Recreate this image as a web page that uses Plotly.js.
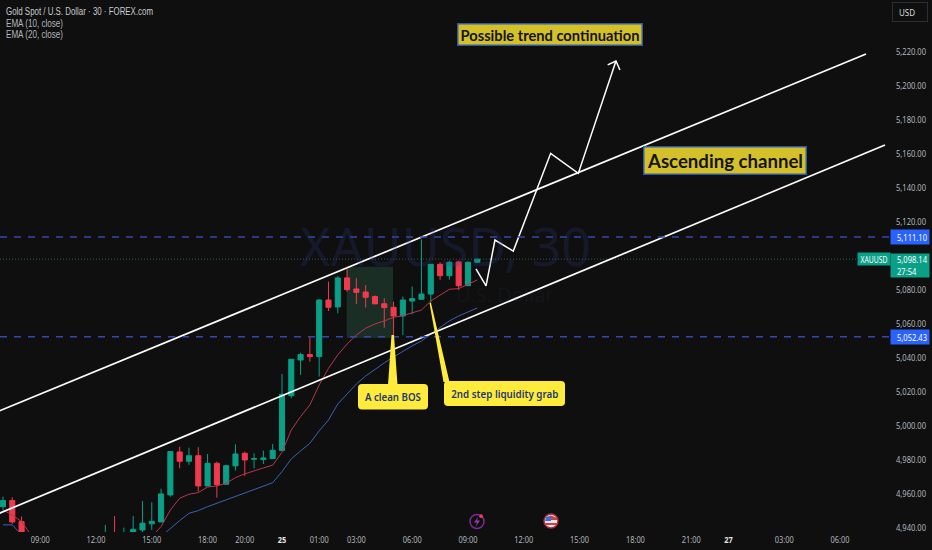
<!DOCTYPE html>
<html>
<head>
<meta charset="utf-8">
<script src="https://cdn.plot.ly/plotly-3.0.1.min.js"></script>
<style>html,body{margin:0;padding:0;background:#0f0f0f;overflow:hidden}#chart{width:932px;height:550px}</style>
</head>
<body>
<div id="chart"></div>
<script>
// Bar index (one bar = 30 minutes) and OHLC prices
const barIndex = [-30,-29,-28,-19,-18,-17,-16,-15,-14,-13,-12,-11,-10,-9,-8,-7,-6,-5,-4,-3,-2,-1,0,1,2,3,4,5,6,7,8,9,10,11,12,13,14,15,16,17,18,19,20,21];
const openPrice = [4952.5,4956.1,4943.7,4936,4936.5,4936,4936.3,4938.8,4942.4,4943.5,4959.4,4984.7,4979.2,4982.5,4964.7,4978,4965.7,4976.5,4983.9,4980.4,4980.2,4980.8,4985.5,5017.8,5038.8,5042,5040.8,5074.1,5070,5087.1,5080.6,5078.8,5076.1,5071.9,5069.8,5064.7,5073.5,5074.5,5077.6,5095.1,5088.4,5096.5,5082.5,5096.3];
const highPrice = [4958.4,4958,4946.7,4941.8,4947,4940.2,4947,4955.9,4955.1,4963,4985.2,4987.8,4987.2,4987.5,4983.5,4979,4977.2,4989.2,4984.9,4983.9,4985.5,4989.4,5030.6,5039.2,5043.1,5052.2,5074.4,5084.9,5088.2,5092.2,5086.9,5082.9,5076.8,5075.1,5073.1,5076.1,5082,5109.8,5095.3,5096.3,5097.2,5097.2,5096.8,5098.3];
const lowPrice = [4950.6,4942.4,4935,4935,4935,4935,4935,4937.5,4938.8,4943.5,4958.4,4975.1,4977.1,4961.4,4964.7,4957.8,4965.7,4973.7,4970.6,4975,4977.6,4980.8,4985.5,5016.3,5030,5037.8,5029,5067.6,5066.3,5079,5071.8,5069.6,5071.8,5057.8,5050.6,5053.5,5065.7,5074.5,5072,5085.9,5086,5080,5082.5,5096];
const closePrice = [4956.1,4943.5,4936,4936.5,4936,4936.3,4939.2,4942.8,4943.9,4960,4984.9,4979.2,4982.5,4964.7,4978,4965.5,4976.6,4983.5,4980,4980.8,4981.2,4985.7,5018.6,5039.2,5042,5040.8,5074.1,5069.8,5087.1,5080.2,5078.6,5075.7,5071.8,5069.6,5064.7,5074.1,5074.9,5077.6,5095.1,5088.4,5096.3,5082.5,5096.3,5098.14];

const ema10Index = [-30,-29,-28,-27,null,-14,-13,-12,-11,-10,-9,-8,-7,-6,-5,-4,-3,-2,-1,0,1,2,3,4,5,6,7,8,9,10,11,12,13,14,15,16,17,18,19,20,21];
const ema10Value = [4950.6,4947.6,4943.7,4936,null,4935,4940.8,4950.6,4957.5,4959.8,4960.8,4964.1,4964.7,4966.3,4969.6,4971.8,4973.7,4975.3,4976.9,4984.5,4997.6,5005.5,5012.4,5024.1,5033.9,5041.8,5048.2,5053.5,5057.5,5060,5061.8,5063.9,5064.9,5066.5,5068.2,5073.5,5077.2,5080.4,5080.8,5083.5,5085.9,5087];
const ema20Index = [-30,-29,-28,null,-13,-12,-11,-10,-9,-8,-7,-6,-5,-4,-3,-2,-1,0,1,2,3,4,5,6,7,8,9,10,11,12,13,14,15,16,17,18,19,20,21];
const ema20Value = [4941.8,4941.8,4936,null,4935,4939.8,4944.3,4948.6,4950.2,4952.5,4954.5,4956.5,4958.8,4960.8,4962.9,4964.9,4966.6,4973.1,4980.6,4985.3,4989.8,4997.1,5003.5,5012.9,5018.8,5024.7,5029.4,5033.5,5037.1,5040.6,5044.1,5047.1,5050,5054.1,5058.2,5061.8,5064.7,5067.1,5069.4];

const channelUpperIndex = [-30.4,62.8];
const channelUpperPrice = [5008.8,5218.8];
const channelLowerIndex = [-30.4,64.84];
const channelLowerPrice = [4948.6,5165.3];

const projectionIndex = [20.86,21.94,22.9,24.87,28.89,31.86,35.91];
const projectionPrice = [5092.4,5082.4,5109.4,5102.9,5160.4,5148.6,5214.7];
const arrowIndex = [35.02,35.91,36.34];
const arrowPrice = [5212.4,5214.7,5209.4];

const priceTicks = [4940,4960,4980,5000,5020,5040,5060,5080,5120,5140,5160,5180,5200,5220];
const timeTickIndex = [-26,-20,-14,-8,-4,0,4,8,14,20,26,32,38,44,48,54,60];
const DAY = s => '<span style="color:#e4e5e8"><b>' + s + '</b></span>';
const timeTickText = ['09:00','12:00','15:00','18:00','20:00',DAY('25'),'01:00','03:00','06:00','09:00','12:00','15:00','18:00','21:00',DAY('27'),'03:00','06:00'];

const resistance = 5111.10;
const support = 5052.43;
const lastPrice = 5098.14;
const zoneIndex = [6.95,11.94];
const zonePrice = [5051.8,5093.7];

const PW = 889, PH = 532;
const px = x => x / PW;
const py = y => 1 - y / PH;
const FONT = '"Noto Sans","Open Sans",sans-serif';
const LEGENDFONT = '"Liberation Sans",sans-serif';
const BOXFONT = 'Lato,"Noto Sans",sans-serif';
const GREEN = '#0a9f87', RED = '#f23a4e', YELLOW = '#ffeb3b';

function roundRect(x0, y0, x1, y1, r) {
  const X = v => px(v).toFixed(5), Y = v => py(v).toFixed(5);
  return `M${X(x0+r)},${Y(y0)} L${X(x1-r)},${Y(y0)} Q${X(x1)},${Y(y0)} ${X(x1)},${Y(y0+r)} L${X(x1)},${Y(y1-r)} Q${X(x1)},${Y(y1)} ${X(x1-r)},${Y(y1)} L${X(x0+r)},${Y(y1)} Q${X(x0)},${Y(y1)} ${X(x0)},${Y(y1-r)} L${X(x0)},${Y(y0+r)} Q${X(x0)},${Y(y0)} ${X(x0+r)},${Y(y0)} Z`;
}
function poly(points) {
  return 'M' + points.map(p => px(p[0]).toFixed(5) + ',' + py(p[1]).toFixed(5)).join(' L') + ' Z';
}
function pathShape(path, fill, line, width) {
  return {type:'path', xref:'paper', yref:'paper', path, fillcolor:fill, line:{color:line||'rgba(0,0,0,0)', width:width||0}};
}
function label(text, x, y, opts) {
  return Object.assign({text, xref:'paper', yref:'paper', x:px(x), y:py(y), showarrow:false,
    xanchor:'center', yanchor:'middle', font:{family:FONT, size:10, color:'#c4c6cc'}, borderpad:0}, opts||{});
}
function priceBox(text, price, bg, height) {
  return {text, xref:'paper', yref:'y', x:px(890), y:price, xanchor:'left', yanchor:'middle', showarrow:false,
    width:38, height:height||14, bgcolor:bg, borderpad:0, align:'left', font:{family:FONT, size:9, color:'#ffffff'}};
}

const traces = [
  {type:'candlestick', x:barIndex, open:openPrice, high:highPrice, low:lowPrice, close:closePrice,
   increasing:{line:{color:GREEN,width:1}, fillcolor:GREEN}, decreasing:{line:{color:RED,width:1}, fillcolor:RED},
   whiskerwidth:0, hoverinfo:'skip', showlegend:false},
  {type:'scatter', mode:'lines', x:ema10Index, y:ema10Value, line:{color:'#b5384c',width:1}, hoverinfo:'skip', connectgaps:false, showlegend:false},
  {type:'scatter', mode:'lines', x:ema20Index, y:ema20Value, line:{color:'#3a62b8',width:1}, hoverinfo:'skip', connectgaps:false, showlegend:false},
  {type:'scatter', mode:'lines', x:channelUpperIndex, y:channelUpperPrice, line:{color:'#ffffff',width:1.7}, hoverinfo:'skip', showlegend:false},
  {type:'scatter', mode:'lines', x:channelLowerIndex, y:channelLowerPrice, line:{color:'#ffffff',width:1.7}, hoverinfo:'skip', showlegend:false},
  {type:'scatter', mode:'lines', x:projectionIndex, y:projectionPrice, line:{color:'#ffffff',width:1.5}, hoverinfo:'skip', showlegend:false},
  {type:'scatter', mode:'lines', x:arrowIndex, y:arrowPrice, line:{color:'#ffffff',width:1.5}, hoverinfo:'skip', showlegend:false}
];

const shapes = [
  {type:'rect', layer:'below', xref:'x', yref:'y', x0:zoneIndex[0], x1:zoneIndex[1], y0:zonePrice[0], y1:zonePrice[1],
   fillcolor:'rgba(70,160,120,0.22)', line:{width:0}},
  {type:'line', xref:'paper', yref:'y', x0:0, x1:1, y0:resistance, y1:resistance, line:{color:'#3449ad',width:1.5,dash:'7px,7px'}},
  {type:'line', xref:'paper', yref:'y', x0:0, x1:1, y0:support, y1:support, line:{color:'#3449ad',width:1.5,dash:'7px,7px'}},
  {type:'line', layer:'below', xref:'paper', yref:'y', x0:0, x1:1, y0:lastPrice, y1:lastPrice, line:{color:'#2f5a4e',width:1,dash:'1px,2px'}},
  // callouts
  pathShape(poly([[391.5,335],[394,335],[397.5,385],[388,385]]), YELLOW),
  pathShape(roundRect(358,384,428,409.5,4), YELLOW),
  pathShape(poly([[429.5,303],[431,303],[449.5,382],[443.5,382]]), YELLOW),
  pathShape(roundRect(444,381,565,406,4), YELLOW),
  // event icons
  {type:'circle', xref:'paper', yref:'paper', x0:px(470), x1:px(484), y0:py(528.5), y1:py(514.5), fillcolor:'rgba(0,0,0,0)', line:{color:'#7b2c96',width:1.5}},
  pathShape(poly([[478.5,516.5],[474,522.5],[477,522.5],[475.5,527],[480,520.5],[477,520.5]]), '#8e3bb0'),
  {type:'circle', xref:'paper', yref:'paper', x0:px(479.3), x1:px(483), y0:py(518), y1:py(514.3), fillcolor:'#f23a4e', line:{width:0}},
  {type:'circle', xref:'paper', yref:'paper', x0:px(544), x1:px(558), y0:py(528), y1:py(514), fillcolor:'#e8e4e8', line:{color:'#b02a38',width:1.5}},
  pathShape(poly([[551,515.5],[557,518],[557,520],[551,520]]), '#c8404a'),
  pathShape(poly([[545,523],[557,523],[556,525],[546,525]]), '#c8404a'),
  pathShape(poly([[546,517],[551,515.5],[551,521],[545,521]]), '#3f6fd0')
];

const annotations = [
  label('XAUUSD, 30', 445, 246, {font:{family:FONT, size:52, color:'rgba(44,62,140,0.22)'}}),
  label('U.S. Dollar', 505, 294, {font:{family:FONT, size:20, color:'rgba(60,80,130,0.1)'}}),
  label('Gold Spot / U.S. Dollar · 30 · FOREX.com', 5, 11.5, {xanchor:'left', font:{family:LEGENDFONT, size:10, color:'#c9cbd0'}}),
  label('EMA (10, close)', 5, 23.5, {xanchor:'left', font:{family:LEGENDFONT, size:10, color:'#b2b5bb'}}),
  label('EMA (20, close)', 5, 35, {xanchor:'left', font:{family:LEGENDFONT, size:10, color:'#b2b5bb'}}),
  label('Possible trend continuation', 550, 35, {width:183, height:20, bgcolor:'#d4c12a', bordercolor:'#2e5aa6', borderwidth:1.5,
    font:{family:BOXFONT, size:15, color:'#141414', weight:700}}),
  label('Ascending channel', 724.5, 160, {width:161, height:26, bgcolor:'#d4c12a', bordercolor:'#2e5aa6', borderwidth:1.5,
    font:{family:BOXFONT, size:19.5, color:'#141414', weight:700}}),
  label('A clean BOS', 393, 396.5, {font:{family:FONT, size:10, color:'#1d3a6e', weight:600}}),
  label('2nd step liquidity grab', 504.5, 393.5, {font:{family:FONT, size:10, color:'#1d3a6e', weight:600}}),
  priceBox('5,111.10', resistance, '#2962ff'),
  priceBox('5,052.43', support, '#2962ff'),
  priceBox('5,098.14<br>27:54', lastPrice - 3.6, '#0a9f87', 23),
  {text:'XAUUSD', xref:'paper', yref:'y', x:px(857), y:lastPrice, xanchor:'left', yanchor:'middle', showarrow:false,
   width:32, height:12, bgcolor:'#0a9f87', borderpad:0, font:{family:FONT, size:8, color:'#ffffff'}},
  label('USD', 910, 12, {width:34, height:18, bordercolor:'#2c2e34', borderwidth:1, align:'left', font:{family:FONT, size:9.5, color:'#d8d9dc'}})
];

const layout = {
  width:932, height:550,
  margin:{l:0, r:43, t:0, b:18, pad:0},
  paper_bgcolor:'#0f0f0f', plot_bgcolor:'#0f0f0f',
  showlegend:false, dragmode:false, boxgap:0.22,
  xaxis:{type:'linear', range:[-30.32,65.27], showgrid:false, zeroline:false, showline:false, ticks:'',
    tickmode:'array', tickvals:timeTickIndex, ticktext:timeTickText, tickangle:0,
    tickfont:{family:FONT, size:9.5, color:'#b2b5bb'}, rangeslider:{visible:false}, fixedrange:true},
  yaxis:{type:'linear', side:'right', range:[4937.6,5250.6], showgrid:false, zeroline:false, showline:false, ticks:'',
    tickmode:'array', tickvals:priceTicks, tickformat:',.2f', ticklabelstandoff:6,
    tickfont:{family:FONT, size:9, color:'#b2b5bb'}, fixedrange:true},
  shapes, annotations
};

// The reference's lettering is condensed: squeeze real SVG text horizontally
function squeeze(el, target) {
  el.setAttribute('lengthAdjust', 'spacingAndGlyphs');
  el.setAttribute('textLength', target.toFixed(2));
}
function linesOf(el) {
  const lines = el.querySelectorAll('tspan.line');
  return lines.length ? Array.from(lines) : [el];
}
function squeezeBy(el, factor) {
  linesOf(el).forEach(t => squeeze(t, t.getComputedTextLength() * factor));
}
function shiftX(el, dx) {
  el.setAttribute('x', parseFloat(el.getAttribute('x') || 0) + dx);
}
Plotly.newPlot('chart', traces, layout, {displayModeBar:false, staticPlot:true}).then(gd => {
  gd.querySelectorAll('.xtick text').forEach(t => squeezeBy(t, 0.78));
  gd.querySelectorAll('.ytick text').forEach(t => squeezeBy(t, 0.84));
  const targets = {
    'Possible trend continuation':179, 'Ascending channel':155, 'A clean BOS':56, '2nd step liquidity grab':107,
    'XAUUSD':27
  };
  const legendTargets = {'Gold Spot / U.S. Dollar · 30 · FOREX.com':147, 'EMA (10, close)':57, 'EMA (20, close)':57};
  gd.querySelectorAll('.annotation-text-g text').forEach(t => {
    const s = t.textContent;
    if (targets[s]) squeeze(t, targets[s]);
    else if (legendTargets[s]) {
      const orig = t.getComputedTextLength();
      squeeze(t, legendTargets[s]);
      shiftX(t, (legendTargets[s] - orig) / 2);
    } else if (s.startsWith('5,')) {
      squeezeBy(t, 0.84);
      linesOf(t).forEach(l => shiftX(l, 6));
    } else if (s === 'USD') {
      squeezeBy(t, 0.84);
      shiftX(t, 6);
    }
  });
});
</script>
</body>
</html>
